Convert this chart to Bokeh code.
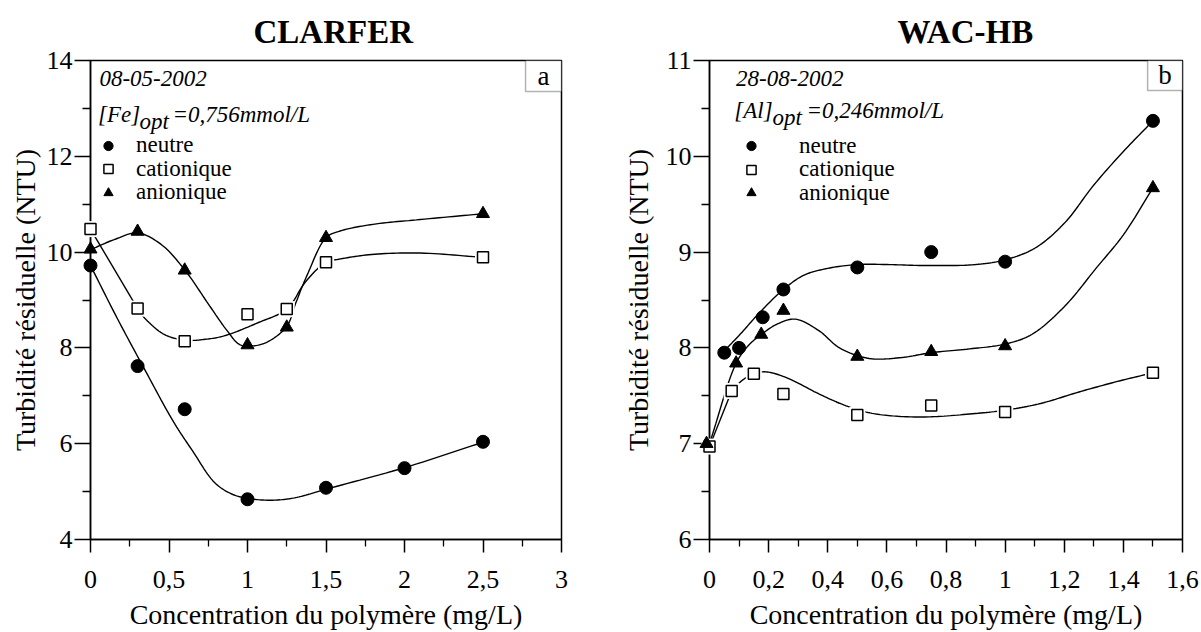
import numpy as np
from bokeh.plotting import figure
from bokeh.layouts import row
from bokeh.models import (Label, BoxAnnotation, FixedTicker, CustomJSTickFormatter,
                          Range1d, Legend, LegendItem)
from bokeh.embed import file_html
from bokeh.resources import INLINE

FONT = "Liberation Serif"

# ---------------- panel a : CLARFER ----------------
a_title = "CLARFER"
a_tag = "a"
a_date = "08-05-2002"
a_dose = ["[Fe]", "opt", "=0,756mmol/L"]
a_neutre_x = [0, 0.3, 0.6, 1.0, 1.5, 2.0, 2.5]
a_neutre_y = [9.72, 7.62, 6.72, 4.84, 5.08, 5.49, 6.04]
a_cation_x = [0, 0.3, 0.6, 1.0, 1.25, 1.5, 2.5]
a_cation_y = [10.48, 8.82, 8.14, 8.70, 8.81, 9.79, 9.89]
a_anion_x = [0, 0.3, 0.6, 1.0, 1.25, 1.5, 2.5]
a_anion_y = [10.06, 10.43, 9.62, 8.06, 8.43, 10.30, 10.80]

# fitted curves
a_fit_neutre_x = [0, 0.17, 0.35, 0.53, 0.65, 0.79, 0.9, 1.0, 1.15, 1.3, 1.5, 2.0, 2.5]
a_fit_neutre_y = [9.72, 8.62, 7.52, 6.45, 5.85, 5.19, 4.95, 4.86, 4.82, 4.87, 5.05, 5.5, 6.03]
a_fit_cation1_x = [0, 0.3]
a_fit_cation1_y = [10.48, 8.82]
a_fit_cation2_x = [0.3, 0.34, 0.47, 0.61, 0.73, 0.85, 1.07, 1.25, 1.37, 1.5, 1.58, 1.79, 2.1, 2.5]
a_fit_cation2_y = [8.82, 8.64, 8.28, 8.16, 8.18, 8.25, 8.53, 8.81, 9.38, 9.79, 9.85, 9.95, 9.98, 9.89]
a_fit_anion_x = [0, 0.15, 0.3, 0.45, 0.6, 0.75, 0.87, 0.95, 1.03, 1.13, 1.25, 1.31, 1.38, 1.5, 1.59, 1.8, 2.1, 2.5]
a_fit_anion_y = [10.05, 10.26, 10.4, 10.16, 9.63, 8.92, 8.36, 8.07, 8.04, 8.13, 8.45, 8.96, 9.52, 10.3, 10.44, 10.58, 10.68, 10.8]

a_xticks = [0, 0.5, 1, 1.5, 2, 2.5, 3]
a_xminor = [0.25, 0.75, 1.25, 1.75, 2.25, 2.75]
a_yticks = [4, 6, 8, 10, 12, 14]
a_yminor = [5, 7, 9, 11, 13]

# ---------------- panel b : WAC-HB ----------------
b_title = "WAC-HB"
b_tag = "b"
b_date = "28-08-2002"
b_dose = ["[Al]", "opt", "=0,246mmol/L"]
b_neutre_x = [0.05, 0.1, 0.18, 0.25, 0.5, 0.75, 1.0, 1.5]
b_neutre_y = [7.95, 8.0, 8.32, 8.61, 8.84, 9.0, 8.9, 10.37]
b_cation_x = [0, 0.075, 0.15, 0.25, 0.5, 0.75, 1.0, 1.5]
b_cation_y = [6.97, 7.55, 7.73, 7.52, 7.30, 7.40, 7.33, 7.74]
b_anion_x = [-0.01, 0.09, 0.175, 0.25, 0.5, 0.75, 1.0, 1.5]
b_anion_y = [7.0, 7.84, 8.14, 8.39, 7.91, 7.96, 8.02, 9.67]

b_fit_neutre_x = [0.05, 0.1, 0.17, 0.25, 0.32, 0.4, 0.5, 0.6, 0.73, 0.9, 1.0, 1.1, 1.2, 1.3, 1.4, 1.5]
b_fit_neutre_y = [7.97, 8.13, 8.37, 8.61, 8.76, 8.83, 8.87, 8.87, 8.86, 8.87, 8.92, 9.04, 9.3, 9.7, 10.05, 10.37]
b_fit_cation1_x = [0, 0.075]
b_fit_cation1_y = [6.97, 7.55]
b_fit_cation2_x = [0.075, 0.11, 0.15, 0.19, 0.26, 0.37, 0.45, 0.53, 0.62, 0.74, 0.88, 1.0, 1.12, 1.25, 1.38, 1.5]
b_fit_cation2_y = [7.55, 7.66, 7.73, 7.75, 7.69, 7.52, 7.41, 7.33, 7.29, 7.28, 7.31, 7.35, 7.42, 7.54, 7.65, 7.74]
b_fit_anion_x = [0, 0.09, 0.13, 0.175, 0.23, 0.29, 0.37, 0.44, 0.54, 0.65, 0.75, 0.88, 1.0, 1.09, 1.2, 1.31, 1.4, 1.5]
b_fit_anion_y = [7.0, 7.84, 8.02, 8.14, 8.25, 8.3, 8.18, 8.0, 7.89, 7.9, 7.95, 7.99, 8.04, 8.14, 8.43, 8.84, 9.18, 9.67]

b_xticks = [0, 0.2, 0.4, 0.6, 0.8, 1.0, 1.2, 1.4, 1.6]
b_xminor = [0.1, 0.3, 0.5, 0.7, 0.9, 1.1, 1.3, 1.5]
b_yticks = [6, 7, 8, 9, 10, 11]
b_yminor = [6.5, 7.5, 8.5, 9.5, 10.5]

legend_labels = ["neutre", "cationique", "anionique"]
x_label = "Concentration du polymère (mg/L)"
y_label = "Turbidité résiduelle (NTU)"


def smooth(xs, ys, kx, ky, n=14):
    """Centripetal Catmull-Rom through the traced knots (in pixel-like space)."""
    P = np.column_stack([np.asarray(xs, float) * kx, np.asarray(ys, float) * ky])
    if len(P) < 3:
        return list(xs), list(ys)
    P = np.vstack([2 * P[0] - P[1], P, 2 * P[-1] - P[-2]])
    out = [P[1]]
    for i in range(1, len(P) - 2):
        p0, p1, p2, p3 = P[i - 1], P[i], P[i + 1], P[i + 2]
        t0 = 0.0
        t1 = t0 + np.linalg.norm(p1 - p0) ** 0.5 + 1e-9
        t2 = t1 + np.linalg.norm(p2 - p1) ** 0.5 + 1e-9
        t3 = t2 + np.linalg.norm(p3 - p2) ** 0.5 + 1e-9
        for t in np.linspace(t1, t2, n)[1:]:
            A1 = (t1 - t) / (t1 - t0) * p0 + (t - t0) / (t1 - t0) * p1
            A2 = (t2 - t) / (t2 - t1) * p1 + (t - t1) / (t2 - t1) * p2
            A3 = (t3 - t) / (t3 - t2) * p2 + (t - t2) / (t3 - t2) * p3
            B1 = (t2 - t) / (t2 - t0) * A1 + (t - t0) / (t2 - t0) * A2
            B2 = (t3 - t) / (t3 - t1) * A2 + (t - t1) / (t3 - t1) * A3
            C = (t2 - t) / (t2 - t1) * B1 + (t - t1) / (t2 - t1) * B2
            out.append(C)
    out = np.array(out)
    return list(out[:, 0] / kx), list(out[:, 1] / ky)


def panel(cfg):
    p = figure(width=cfg["w"], height=632,
               x_range=Range1d(*cfg["xr"]), y_range=Range1d(*cfg["yr"]),
               output_backend="svg", toolbar_location=None,
               min_border_left=cfg["bl"], min_border_right=cfg["br"],
               min_border_top=60, min_border_bottom=92)
    p.xgrid.visible = False
    p.ygrid.visible = False
    p.outline_line_color = "black"
    p.outline_line_width = 1.5
    p.outline_line_alpha = 1.0
    p.background_fill_color = "white"
    p.border_fill_color = "white"

    # title
    p.title.text = cfg["title"]
    p.title.align = "left"
    p.title.vertical_align = "bottom"
    p.title.standoff = 21
    p.title.text_font = FONT
    p.title.text_font_size = "33px"
    p.title.text_font_style = "bold"
    p.title.text_color = "black"
    p.title.offset = cfg["title_off"]

    fmt = CustomJSTickFormatter(code="return String(Math.round(tick*10)/10).replace('.', ',');")
    p.xaxis.ticker = FixedTicker(ticks=cfg["xt"], minor_ticks=cfg["xm"])
    p.yaxis.ticker = FixedTicker(ticks=cfg["yt"], minor_ticks=cfg["ym"])
    for ax in (p.xaxis[0], p.yaxis[0]):
        ax.formatter = fmt
        ax.axis_line_width = 1.5
        ax.axis_line_color = "black"
        ax.major_tick_line_width = 1.5
        ax.minor_tick_line_width = 1.3
        ax.major_tick_line_color = "black"
        ax.minor_tick_line_color = "black"
        ax.major_tick_in = 0
        ax.minor_tick_in = 0
        ax.major_label_text_font = FONT
        ax.major_label_text_font_size = "26px"
        ax.major_label_text_color = "black"
        ax.axis_label_text_font = FONT
        ax.axis_label_text_font_size = "28px"
        ax.axis_label_text_font_style = "normal"
        ax.axis_label_text_color = "black"
    p.xaxis.major_tick_out = 13
    p.xaxis.minor_tick_out = 7
    p.yaxis.major_tick_out = 16
    p.yaxis.minor_tick_out = 8
    p.xaxis.major_label_standoff = 18
    p.yaxis.major_label_standoff = 2
    p.xaxis.axis_label_standoff = 8
    p.yaxis.axis_label_standoff = cfg["ylab_so"]
    p.xaxis.axis_label = x_label
    p.yaxis.axis_label = y_label

    kx, ky = cfg["kx"], cfg["ky"]
    for fx, fy in cfg["fits"]:
        sx, sy = smooth(fx, fy, kx, ky)
        p.line(sx, sy, line_color="black", line_width=1.4)

    rn = p.scatter(cfg["nx"], cfg["ny"], marker="circle", size=13,
                   fill_color="black", line_color="black", level="overlay")
    p.scatter(cfg["cx"], cfg["cy"], marker="square", size=16,
              fill_color="white", line_color=None, level="overlay")
    rc = p.scatter(cfg["cx"], cfg["cy"], marker="square", size=11,
                   fill_color="white", line_color="black", line_width=1.5, level="overlay")
    ra = p.scatter(cfg["ax"], cfg["ay"], marker="triangle", size=13,
                   fill_color="black", line_color="black", level="overlay")

    # one legend per entry so that the row pitch matches the original
    for lab, rend, loc in zip(legend_labels, [rn, rc, ra], cfg["leg_locs"]):
        lg = Legend(items=[LegendItem(label=lab, renderers=[rend])],
                    location=loc, padding=0, margin=0, spacing=0,
                    glyph_width=24, glyph_height=23, label_height=23,
                    label_standoff=cfg["leg_so"], label_text_font=FONT,
                    label_text_font_size="23px", label_text_color="black",
                    background_fill_alpha=0, border_line_alpha=0)
        p.add_layout(lg)

    # date and dose annotation
    dx, dy = cfg["date_xy"]
    p.add_layout(Label(x=dx, y=dy, text=cfg["date"], text_font=FONT, text_font_size="23px",
                       text_font_style="italic", text_baseline="alphabetic", text_color="black"))
    for txt, (tx, ty) in zip(cfg["dose"], cfg["dose_xy"]):
        p.add_layout(Label(x=tx, y=ty, text=txt, text_font=FONT, text_font_size="23px",
                           text_font_style="italic", text_baseline="alphabetic",
                           text_color="black"))
    # panel tag box
    l, r, b, t = cfg["tagbox"]
    p.add_layout(BoxAnnotation(left=l, right=r, bottom=b, top=t, fill_color="white",
                               fill_alpha=1.0, line_color="black", line_width=1.5))
    p.add_layout(Label(x=(l + r) / 2, y=(b + t) / 2, text=cfg["tag"], text_font=FONT,
                       text_font_size="27px", text_align="center", text_baseline="middle",
                       text_color="black"))
    return p


cfg_a = dict(w=600, bl=90, br=39, xr=(0, 3), yr=(4, 14), kx=157, ky=48,
             xt=a_xticks, xm=a_xminor, yt=a_yticks, ym=a_yminor, ylab_so=3,
             fits=[(a_fit_neutre_x, a_fit_neutre_y), (a_fit_cation1_x, a_fit_cation1_y),
                   (a_fit_cation2_x, a_fit_cation2_y), (a_fit_anion_x, a_fit_anion_y)],
             nx=a_neutre_x, ny=a_neutre_y, cx=a_cation_x, cy=a_cation_y,
             ax=a_anion_x, ay=a_anion_y, leg_locs=[(6, 381), (6, 357.5), (6, 334)], leg_so=16,
             title=a_title, title_off=163, date=a_date, date_xy=(0.057, 13.63),
             dose=a_dose, dose_xy=[(0.048, 12.87), (0.312, 12.73), (0.522, 12.87)],
             tagbox=(2.771, 3.0, 13.354, 14.0), tag=a_tag)

cfg_b = dict(w=601, bl=109, br=19, xr=(0, 1.6), yr=(6, 11), kx=295.6, ky=96,
             xt=b_xticks, xm=b_xminor, yt=b_yticks, ym=b_yminor, ylab_so=9,
             fits=[(b_fit_neutre_x, b_fit_neutre_y), (b_fit_cation1_x, b_fit_cation1_y),
                   (b_fit_cation2_x, b_fit_cation2_y), (b_fit_anion_x, b_fit_anion_y)],
             nx=b_neutre_x, ny=b_neutre_y, cx=b_cation_x, cy=b_cation_y,
             ax=b_anion_x, ay=b_anion_y, leg_locs=[(30, 380.5), (30, 357), (30, 333.5)], leg_so=36,
             title=b_title, title_off=188, date=b_date, date_xy=(0.090, 10.815),
             dose=b_dose, dose_xy=[(0.084, 10.48), (0.213, 10.41), (0.328, 10.48)],
             tagbox=(1.482, 1.6, 10.6875, 11.0), tag=b_tag)

pa = panel(cfg_a)
pb = panel(cfg_b)
layout = row(pa, pb)

open("out.html", "w").write(file_html(layout, INLINE))
